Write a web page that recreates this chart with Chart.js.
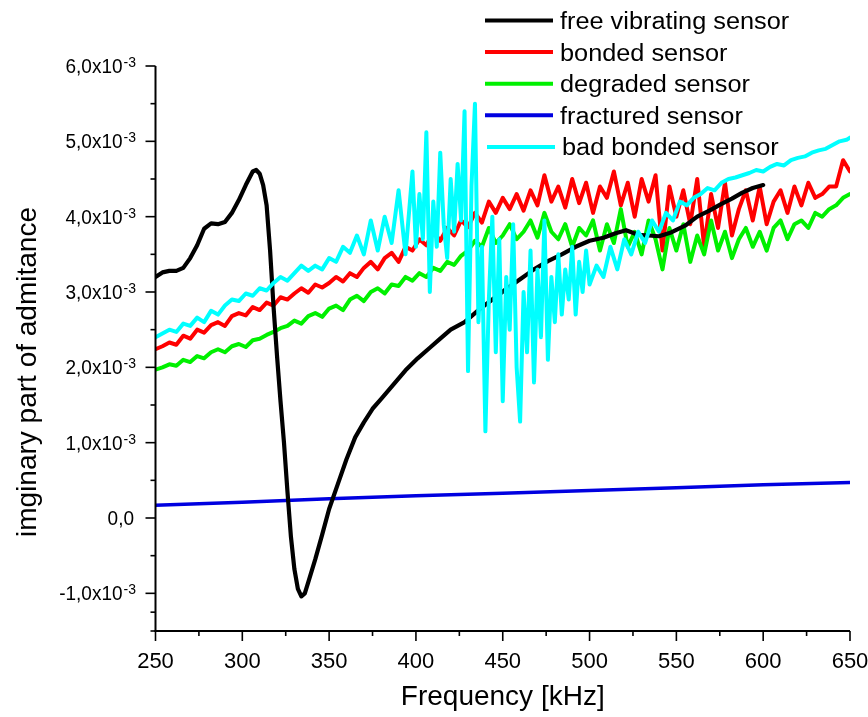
<!DOCTYPE html>
<html><head><meta charset="utf-8">
<script src="https://cdn.jsdelivr.net/npm/chart.js@4.4.1/dist/chart.umd.min.js"></script>
<style>html,body{margin:0;padding:0;background:#fff;}#wrap{width:868px;height:717px;position:relative}</style>
</head><body><div id="wrap"><canvas id="c" width="868" height="717"></canvas></div>
<script>
// Frequencies in kHz, admittance values in units of 10^-3
const freqGrid = [250,254,258,262,266,270,274,278,282,286,290,294,298,302,306,310,314,318,322,326,330,334,338,342,346,350,354,358,362,366,370,374,378,382,386,390,394,398,402,406,410,414,418,422,426,430,434,438,442,446,450,454,458,462,466,470,474,478,482,486,490,494,498,502,506,510,514,518,522,526,530,534,538,542,546,550,554,558,562,566,570,574,578,582,586,590,594,598,602,606,610,614,618,622,626,630,634,638,642,646,650];

const freeFreq = [250,254,258,262,266,270,274,278,282,286,290,294,298,302,306,308,310,312,314,316,318,320,322,324,326,328,330,332,334,336,338,342,346,350,355,360,365,370,375,380,387,394,401,408,414,420,428,436,444,452,460,468,476,484,492,500,508,515,521,528,534,540,547,555,562,569,576,582,588,594,600];
const freeVibrating = [3.20,3.26,3.28,3.28,3.32,3.45,3.62,3.84,3.91,3.90,3.93,4.05,4.22,4.42,4.60,4.62,4.57,4.42,4.15,3.55,2.80,2.15,1.55,1.00,0.35,-0.25,-0.68,-0.94,-1.04,-1.00,-0.85,-0.55,-0.22,0.12,0.45,0.78,1.07,1.27,1.45,1.58,1.77,1.96,2.12,2.26,2.38,2.50,2.60,2.76,2.90,3.04,3.17,3.30,3.41,3.50,3.60,3.68,3.72,3.78,3.82,3.76,3.75,3.74,3.79,3.88,4.00,4.08,4.17,4.24,4.32,4.38,4.42];

const bonded = [2.24,2.28,2.33,2.30,2.42,2.38,2.50,2.46,2.56,2.60,
2.55,2.68,2.72,2.69,2.80,2.76,2.86,2.82,2.93,2.90,
2.98,3.05,2.99,3.10,3.06,3.12,3.20,3.14,3.25,3.20,
3.32,3.40,3.30,3.45,3.52,3.40,3.60,3.55,3.70,3.62,
3.80,3.68,3.85,3.75,3.95,3.86,4.05,3.92,4.20,4.05,
4.25,4.10,4.30,4.08,4.35,4.15,4.55,4.20,4.40,4.12,
4.50,4.18,4.45,4.05,4.40,4.25,4.60,4.15,4.45,4.00,
4.50,4.20,4.55,3.55,4.40,4.00,4.35,3.90,4.50,3.60,
4.30,3.85,4.45,3.75,4.10,4.35,3.95,4.40,3.90,4.20,
4.35,4.05,4.40,4.15,4.45,4.25,4.30,4.40,4.40,4.75,
4.60];

const degraded = [1.97,2.00,2.04,2.02,2.10,2.07,2.15,2.12,2.20,2.24,
2.20,2.28,2.31,2.27,2.36,2.38,2.43,2.47,2.52,2.55,
2.62,2.58,2.68,2.72,2.67,2.78,2.82,2.76,2.90,2.95,
2.88,3.00,3.05,2.98,3.10,3.08,3.20,3.15,3.25,3.20,
3.32,3.28,3.40,3.36,3.48,3.55,3.68,3.60,3.85,3.65,
3.75,3.90,3.70,3.80,3.95,3.72,4.05,3.80,3.70,3.90,
3.60,3.85,3.75,3.95,3.55,3.90,3.65,4.10,3.60,3.80,
3.50,3.95,3.70,3.30,3.85,3.55,3.90,3.40,3.75,3.50,
3.95,3.55,3.80,3.45,3.70,3.85,3.60,3.80,3.55,3.85,
3.95,3.70,3.90,3.95,3.85,4.05,4.00,4.10,4.15,4.25,
4.30];

const fracFreq = [250,300,350,400,450,500,550,600,650];
const fractured = [0.17,0.21,0.255,0.295,0.33,0.365,0.40,0.44,0.47];

const badFreq = [250,254,258,262,266,270,274,278,282,286,290,294,298,302,306,310,314,318,322,326,330,334,338,342,346,350,354,358,362,366,370,374,378,382,386,390,394,398,
400,402,404,406,408,410,412,414,416,418,420,422,424,426,428,430,432,434,436,438,440,442,444,446,448,450,452,454,456,458,460,462,464,466,468,470,472,474,476,478,480,482,484,486,488,490,492,494,496,498,500,
504,508,512,516,520,524,528,532,536,540,544,548,552,556,560,564,568,572,576,580,584,588,592,596,600,604,608,612,616,620,624,628,632,636,640,644,648,650];
const badBonded = [2.40,2.45,2.50,2.47,2.58,2.55,2.66,2.60,2.75,2.70,
2.82,2.90,2.88,2.98,2.95,3.05,3.02,3.12,3.20,3.15,
3.25,3.35,3.28,3.35,3.30,3.45,3.40,3.60,3.52,3.75,
3.50,3.95,3.55,4.00,3.65,4.35,3.50,4.60,
3.60,4.30,3.70,5.12,3.00,4.20,3.60,4.85,3.90,3.45,
4.50,3.80,4.70,3.95,5.40,1.95,4.40,5.50,2.60,3.60,
1.15,2.90,4.00,2.20,3.70,1.55,3.20,2.50,3.90,2.00,
1.28,3.00,2.20,3.55,1.80,3.30,2.40,3.95,2.10,3.20,
2.60,3.50,2.70,3.30,2.90,3.60,2.70,3.40,3.00,3.55,
3.10,
3.35,3.20,3.60,3.30,3.70,3.50,3.80,3.65,3.95,3.80,
4.05,3.95,4.20,4.15,4.25,4.30,4.38,4.35,4.45,4.50,
4.52,4.55,4.58,4.62,4.60,4.66,4.70,4.68,4.75,4.78,
4.80,4.85,4.88,4.90,4.95,5.00,5.02,5.05];

const xTickValues = [250,300,350,400,450,500,550,600,650];
const xTickLabels = ['250','300','350','400','450','500','550','600','650'];
const yTickValues = [-1,0,1,2,3,4,5,6];
const yTickLabels = ['-1,0x10','0,0','1,0x10','2,0x10','3,0x10','4,0x10','5,0x10','6,0x10'];
const yTickExponent = '-3';
const xTitle = 'Frequency [kHz]';
const yTitle = 'imginary part of admitance';

const seriesNames = ['free vibrating sensor','bonded sensor','degraded sensor','fractured sensor','bad bonded sensor'];
const seriesColors = ['#000000','#ff0000','#00f000','#0000e0','#00ffff'];

const pts = (xs, ys) => xs.map((v,i)=>({x:v,y:ys[i]}));
const FONT = "'Liberation Sans', Arial, sans-serif";

function txt(ctx, s, x, y, size, sx, align, base){
  ctx.save(); ctx.font = size+'px '+FONT; ctx.textAlign=align; ctx.textBaseline=base;
  ctx.translate(x,y); ctx.scale(sx,1); ctx.fillText(s,0,0); ctx.restore();
}

const axesPlugin = {
  id:'axesPlugin',
  afterDraw(chart){
    const {ctx, scales:{x,y}, chartArea:a} = chart;
    ctx.save();
    ctx.strokeStyle='#000';
    ctx.fillStyle='#000';
    ctx.lineWidth=1.6;
    const line=(x1,y1,x2,y2)=>{ctx.beginPath();ctx.moveTo(x1,y1);ctx.lineTo(x2,y2);ctx.stroke();};
    xTickValues.forEach((v,i)=>{
      const px=x.getPixelForValue(v); line(px,a.bottom,px,a.bottom+10);
      if(i<xTickValues.length-1){const m=x.getPixelForValue((v+xTickValues[i+1])/2); line(m,a.bottom,m,a.bottom+5);}
      txt(ctx,xTickLabels[i],px,662,22,1,'center','middle');
    });
    const yAll=[-1.5].concat(yTickValues);
    yAll.forEach((v,i)=>{
      const py=y.getPixelForValue(v);
      if(i>0) line(a.left-10,py,a.left,py); else line(a.left-5,py,a.left,py);
      if(i<yAll.length-1){const m=y.getPixelForValue((v+yAll[i+1])/2); line(a.left-5,m,a.left,m);}
    });
    ctx.lineWidth=2;
    line(a.left,a.top,a.left,a.bottom+1);
    line(a.left-1,a.bottom,a.right,a.bottom);
    yTickValues.forEach((v,i)=>{
      const py=y.getPixelForValue(v);
      const right=136;
      if(v===0){txt(ctx,yTickLabels[i],right-2,py+7,20,0.95,'right','alphabetic');return;}
      ctx.font='14px '+FONT;
      const sw=ctx.measureText(yTickExponent).width;
      txt(ctx,yTickExponent,right,py+1,14,1,'right','alphabetic');
      txt(ctx,yTickLabels[i],right-sw-1,py+7,20,0.95,'right','alphabetic');
    });
    txt(ctx,xTitle,(a.left+a.right)/2,705,28,1,'center','alphabetic');
    ctx.save(); ctx.translate(36,372); ctx.rotate(-Math.PI/2);
    txt(ctx,yTitle,0,0,28,1,'center','alphabetic'); ctx.restore();
    chart.data.datasets.forEach((ds,i)=>{
      const ly=20.5+i*31.6;
      ctx.strokeStyle=ds.borderColor; ctx.lineWidth=4;
      const off = i===4?2:0;
      line(485+off,ly,553+off,ly);
      txt(ctx,ds.label,560+off,ly+8.5,23,1.1,'left','alphabetic');
    });
    ctx.restore();
  }
};

new Chart(document.getElementById('c'),{
  type:'line',
  data:{datasets:[
    {label:seriesNames[0],data:pts(freeFreq,freeVibrating),borderColor:seriesColors[0],borderWidth:4.2,order:1},
    {label:seriesNames[1],data:pts(freqGrid,bonded),borderColor:seriesColors[1],borderWidth:4,order:4},
    {label:seriesNames[2],data:pts(freqGrid,degraded),borderColor:seriesColors[2],borderWidth:4,order:3},
    {label:seriesNames[3],data:pts(fracFreq,fractured),borderColor:seriesColors[3],borderWidth:3.5,order:2},
    {label:seriesNames[4],data:pts(badFreq,badBonded),borderColor:seriesColors[4],borderWidth:4,order:0}
  ]},
  options:{
    responsive:false, animation:false, devicePixelRatio:1,
    elements:{point:{radius:0},line:{tension:0,borderJoinStyle:'round',borderCapStyle:'round'}},
    layout:{padding:{top:66,right:18,left:0,bottom:0}},
    plugins:{legend:{display:false},tooltip:{enabled:false}},
    scales:{
      x:{type:'linear',min:250,max:650,
        afterFit:s=>{s.height=86;},
        grid:{display:false,drawTicks:false},border:{display:false},
        ticks:{display:false,stepSize:50}},
      y:{type:'linear',min:-1.5,max:6,
        afterFit:s=>{s.width=155.5;},
        grid:{display:false,drawTicks:false},border:{display:false},
        ticks:{display:false,stepSize:1}}
    }
  },
  plugins:[axesPlugin]
});
</script></body></html>
